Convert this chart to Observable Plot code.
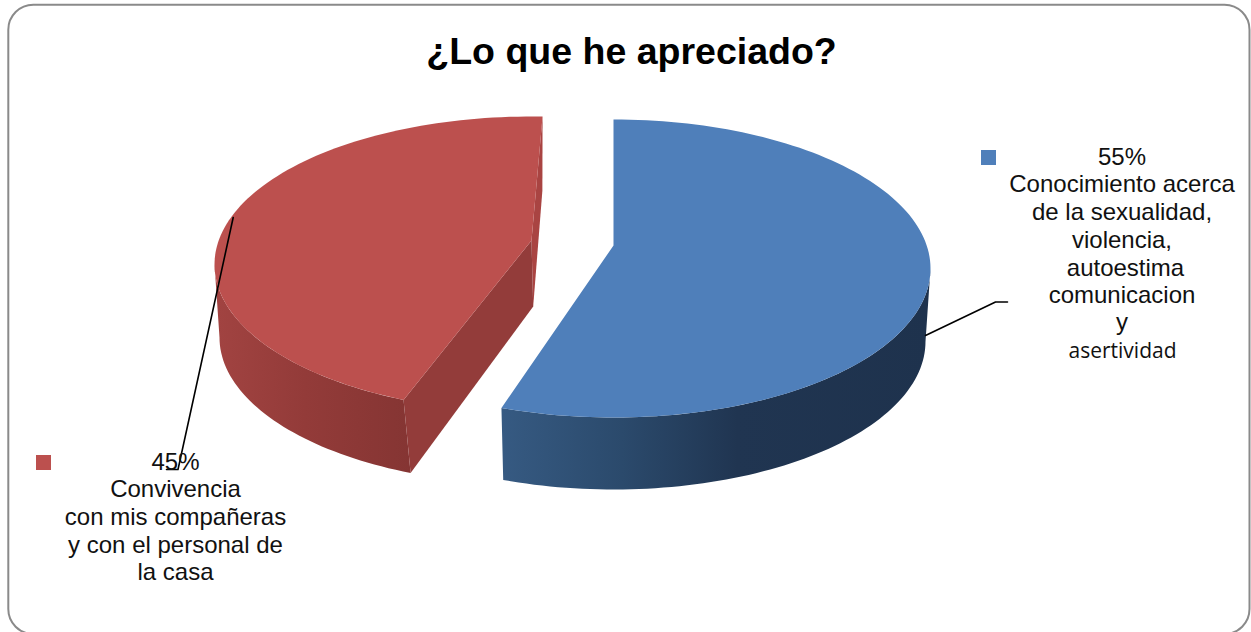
<!DOCTYPE html>
<html lang="es">
<head>
<meta charset="utf-8">
<title>¿Lo que he apreciado?</title>
<script src="https://cdn.jsdelivr.net/npm/d3@7"></script>
<script src="https://cdn.jsdelivr.net/npm/@observablehq/plot@0.6"></script>
<style>
html,body{margin:0;padding:0;background:#fff}
svg{display:block}
</style>
</head>
<body>
<div id="chart"></div>
<script>
// Data
const categories = ["Conocimiento", "Convivencia"];
const shares = [55, 45];
const titleText = "¿Lo que he apreciado?";
const labelLinesBlue = ["55%", "Conocimiento acerca", "de la sexualidad,", "violencia,", "autoestima", "comunicacion", "y"];
const labelLastBlue = ["asertividad"];
const labelLinesRed = ["45%", "Convivencia", "con mis compañeras", "y con el personal de", "la casa"];
const colors = ["#4f7fba", "#bc504e"];

// Layout of the tilted pie
const W = 1251, H = 632;
const top3d = [{cx: 613, cy: 268, rx: 317, ry: 149}, {cx: 531, cy: 264, rx: 317, ry: 148}];
const bottom3d = [{cx: 613, cy: 341, rx: 312, ry: 148}, {cx: 531, cy: 337, rx: 312, ry: 147}];
const apexTop = [[613, 245], [531, 240]];
const apexBottom = [[613, 311], [532.7, 306]];
const perspective = [[0, 2.7], [5.8, 2]];  // apparent angle shift of each slice's start and end

const total = d3.sum(shares);
const cum = d3.cumsum(shares);
const angles = shares.map((s, i) => [
  (cum[i] - s) / total * 360 + perspective[i][0],
  cum[i] / total * 360 + perspective[i][1]
]);
const pointAt = (e, a) => [e.cx + e.rx * Math.sin(a * Math.PI / 180), e.cy - e.ry * Math.cos(a * Math.PI / 180)];
function arc(e, a0, a1) {
  const n = Math.ceil(Math.abs(a1 - a0) / 1.5);
  return d3.range(n + 1).map(k => pointAt(e, a0 + (a1 - a0) * k / n));
}
const xy = {x: d => d[0], y: d => d[1]};
const face = (pts, fill) => Plot.line(pts, {...xy, fill, stroke: "none", curve: "linear"});

// Top faces
const blueTop = [apexTop[0], ...arc(top3d[0], angles[0][0], angles[0][1])];
const redTop = [apexTop[1], ...arc(top3d[1], angles[1][0], angles[1][1])];
// Outer walls
const redFoot = angles[1][0] - 1;
const blueWall = [...arc(top3d[0], 90, angles[0][1]), ...arc(bottom3d[0], angles[0][1], 90)];
const redWall = [...arc(top3d[1], angles[1][0], 270), ...arc(bottom3d[1], 270, redFoot)];
// Cut walls of the red slice
const redCut = [pointAt(top3d[1], angles[1][0]), apexTop[1], apexBottom[1], pointAt(bottom3d[1], redFoot)];
const redBack = [pointAt(top3d[1], angles[1][1]), pointAt(bottom3d[1], angles[1][1]), apexBottom[1], apexTop[1]];

const gradient = (id, x1, x2, stops) => () => {
  const g = d3.create("svg:linearGradient").attr("id", id)
    .attr("gradientUnits", "userSpaceOnUse")
    .attr("x1", x1).attr("x2", x2).attr("y1", 0).attr("y2", 0);
  stops.forEach(([o, c]) => g.append("stop").attr("offset", o).attr("stop-color", c));
  const d = d3.create("svg:defs");
  d.append(() => g.node());
  return d.node();
};

const sans = "Liberation Sans, Arial, sans-serif";
const textLines = (lines, x, y0, step, opts = {}) =>
  Plot.text(lines, {
    x: () => x, y: (d, i) => y0 + i * step, text: d => d,
    fontFamily: sans, fontSize: 24, fill: "#111", textAnchor: "middle", lineAnchor: "bottom", ...opts
  });

const chart = Plot.plot({
  width: W, height: H, margin: 0,
  x: {domain: [0, W], range: [0, W], axis: null},
  y: {domain: [0, H], range: [0, H], axis: null},
  marks: [
    gradient("blueWallFill", 501, 930, [[0, "#365a82"], [0.28, "#2b4a6c"], [0.55, "#203551"], [1, "#1e324d"]]),
    gradient("redWallFill", 218, 410, [[0, "#a14341"], [0.45, "#933b39"], [1, "#853533"]]),
    // frame
    Plot.rect([0], {x1: () => 8.3, x2: () => 1249.5, y1: () => 4.7, y2: () => 634, rx: 25, fill: "white", stroke: "#8a8a8a", strokeWidth: 2}),
    // pie
    face(blueWall, "url(#blueWallFill)"),
    face(blueTop, colors[0]),
    face(redBack, "#a94442"),
    face(redWall, "url(#redWallFill)"),
    face(redCut, "#933c3a"),
    face(redTop, colors[1]),
    // leader lines
    Plot.line([[925, 335], [995, 301.5], [1007, 301.5]], {...xy, stroke: "black", strokeWidth: 1.6}),
    Plot.line([[232.7, 217], [177.5, 469], [166, 469]], {...xy, stroke: "black", strokeWidth: 1.6}),
    // legend keys
    Plot.rect([0], {x1: () => 981, x2: () => 996, y1: () => 150, y2: () => 165, fill: colors[0]}),
    Plot.rect([0], {x1: () => 36, x2: () => 51, y1: () => 455, y2: () => 470, fill: colors[1]}),
    // title
    Plot.text([titleText], {x: () => 631, y: () => 63, text: d => d, fontFamily: sans, fontSize: 37.5, fontWeight: "bold", fill: "black", textAnchor: "middle", lineAnchor: "bottom"}),
    // labels
    textLines(labelLinesBlue.slice(0, 3), 1121.5, 164, 27.9),
    textLines([labelLinesBlue[3]], 1121.5, 247, 0),
    textLines([labelLinesBlue[4]], 1125, 275, 0),
    textLines([labelLinesBlue[5]], 1121.5, 302, 0),
    textLines([labelLinesBlue[6]], 1121.5, 329, 0),
    textLines(labelLastBlue, 1122, 357.5, 0, {fontFamily: "Open Sans, sans-serif", fontSize: 21}),
    textLines(labelLinesRed, 175, 469, 27.7)
  ]
});
document.getElementById("chart").append(chart);
</script>
</body>
</html>
